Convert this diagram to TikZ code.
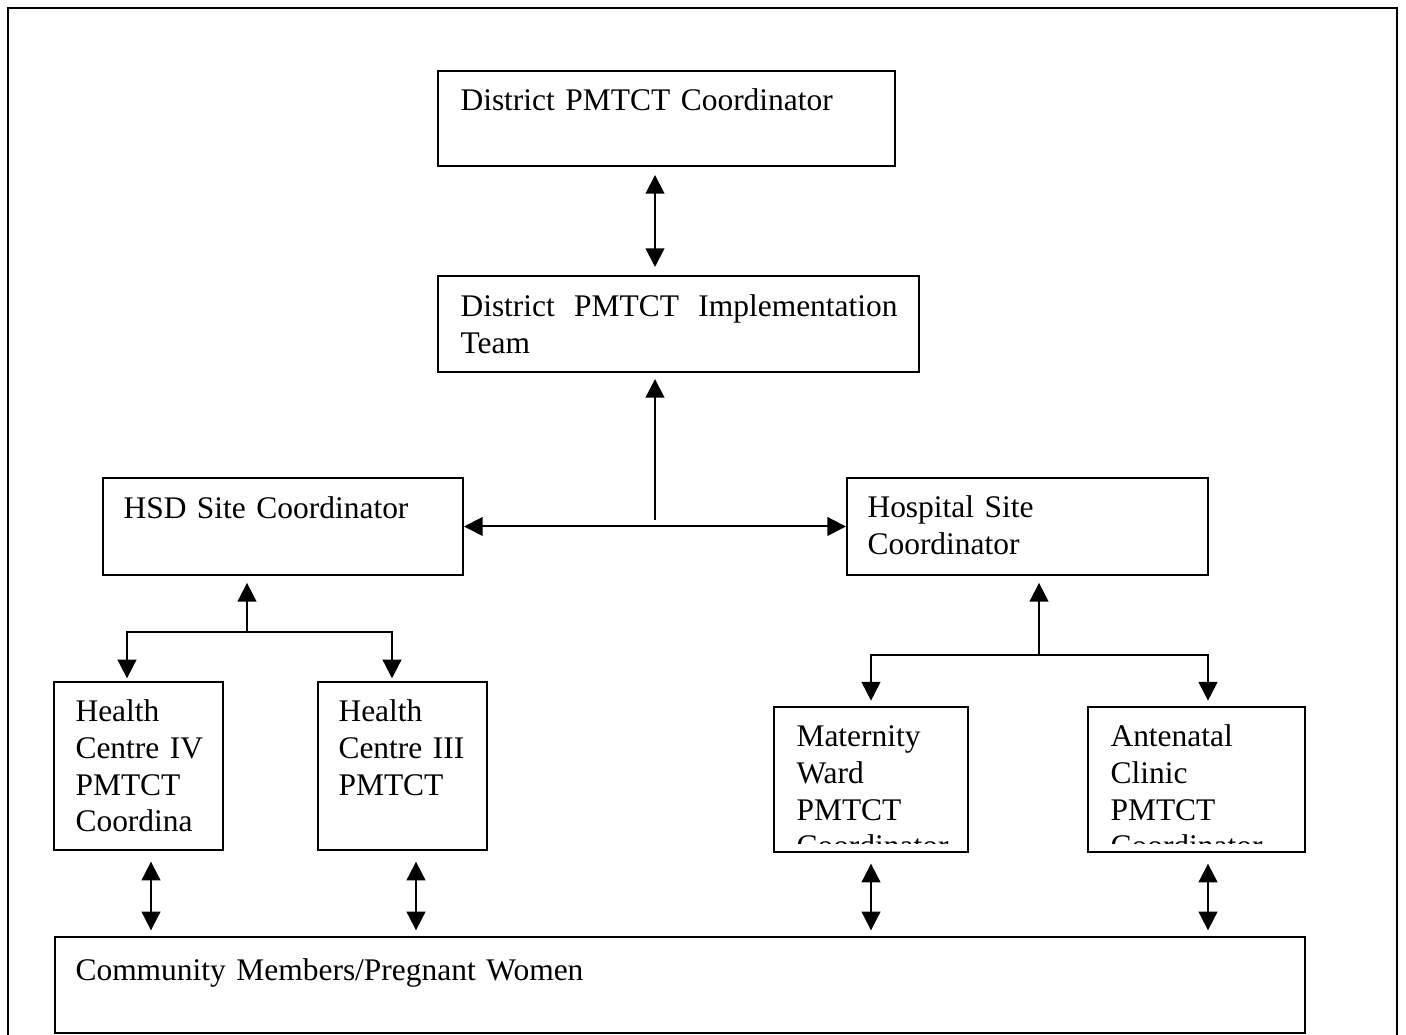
\documentclass[tikz,border=0pt]{standalone}
\usepackage{fontspec}
\setmainfont{Liberation Serif}
\usetikzlibrary{arrows.meta,fit}

\tikzset{
  box/.style={draw, line width=0.75pt, inner sep=0pt},
  txt/.style={anchor=base west, inner sep=0pt, text width=#1, align=left,
    font=\fontsize{11.8}{13.7}\selectfont},
  arr/.style={-{Triangle[length=7pt,width=7pt]}, line width=0.75pt},
  dbl/.style={{Triangle[length=7pt,width=7pt]}-{Triangle[length=7pt,width=7pt]}, line width=0.75pt},
}

\begin{document}
\begin{tikzpicture}[x=0.375pt,y=-0.375pt]
  \useasboundingbox (0,0) rectangle (1406,1035);
  % outer frame, open at the bottom
  \draw[line width=1pt] (8,1035) -- (8,8) -- (1397,8) -- (1397,1035);
  % district level
  \node[box, fit={(438,71) (895,166)}] (dc) {};
  \node[txt=170pt] (dct) at (460,111) {District PMTCT Coordinator};
  \node[box, fit={(438,276) (919,372)}] (it) {};
  \node[txt=163.9pt] (itt) at (460,317) {District\hfill PMTCT\hfill Implementation\\Team};
  % site coordinators
  \node[box, fit={(103,478) (463,575)}] (hsd) {};
  \node[txt=150pt] (hsdt) at (123,519) {HSD Site Coordinator};
  \node[box, fit={(847,478) (1208,575)}] (hosp) {};
  \node[txt=150pt] (hospt) at (867,518) {Hospital Site\\Coordinator};
  % units
  \node[box, fit={(54,682) (223,850)}] (hc4) {};
  \node[txt=80pt] (hc4t) at (75,722) {Health\\Centre IV\\PMTCT\\Coordina};
  \node[box, fit={(318,682) (487,850)}] (hc3) {};
  \node[txt=80pt] (hc3t) at (338,722) {Health\\Centre III\\PMTCT};
  \node[box, fit={(774,707) (968,852)}] (mw) {};
  \begin{scope}
    \clip (mw.north west) rectangle ([yshift=3.4pt]mw.south east);
    \node[txt=80pt] (mwt) at (796,747) {Maternity\\Ward\\PMTCT\\Coordinator};
  \end{scope}
  \node[box, fit={(1088,707) (1305,852)}] (ac) {};
  \begin{scope}
    \clip (ac.north west) rectangle ([yshift=3.4pt]ac.south east);
    \node[txt=80pt] (act) at (1110,747) {Antenatal\\Clinic\\PMTCT\\Coordinator};
  \end{scope}
  % community
  \node[box, line width=1pt, fit={(55,937) (1305,1033)}] (cm) {};
  \node[txt=300pt] (cmt) at (75,980) {Community Members/Pregnant Women};
  % junction points
  \coordinate (trunk) at (655,520);
  \coordinate (hb) at (247,632);
  \coordinate (hl) at (127,632);
  \coordinate (hr) at (392,632);
  \coordinate (kb) at (1039,655);
  \coordinate (kl) at (871,655);
  \coordinate (kr) at (1208,655);
  \coordinate (c1) at (151,0);
  \coordinate (c2) at (416,0);
  \coordinate (c3) at (871,0);
  \coordinate (c4) at (1208,0);
  % arrows
  \draw[dbl, shorten <=3pt, shorten >=3pt] (trunk |- dc.south) -- (trunk |- it.north);
  \draw[arr, shorten >=2.25pt] (trunk) -- (trunk |- it.south);
  \draw[dbl] (hsd.east) -- (hosp.west);
  \draw[arr, shorten >=2.6pt] (hb) -- (hb |- hsd.south);
  \draw[arr, shorten >=1pt] (hb) -- (hl) -- (hl |- hc4.north);
  \draw[arr, shorten >=1pt] (hb) -- (hr) -- (hr |- hc3.north);
  \draw[arr, shorten >=2.6pt] (kb) -- (kb |- hosp.south);
  \draw[arr, shorten >=2pt] (kb) -- (kl) -- (kl |- mw.north);
  \draw[arr, shorten >=2pt] (kb) -- (kr) -- (kr |- ac.north);
  \foreach \c/\b in {c1/hc4, c2/hc3, c3/mw, c4/ac}
    \draw[dbl, shorten <=4pt, shorten >=2pt] (\c |- \b.south) -- (\c |- cm.north);
\end{tikzpicture}
\end{document}
